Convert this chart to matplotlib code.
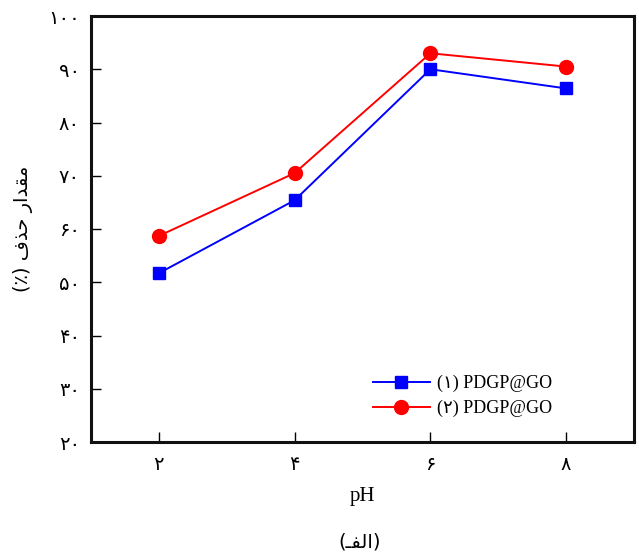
import matplotlib
matplotlib.use("Agg")
import matplotlib.pyplot as plt

# pH values and removal percentages for the two adsorbents
ph = [2, 4, 6, 8]
removal_1 = [51.7, 65.4, 90.0, 86.4]
removal_2 = [58.7, 70.5, 93.0, 90.5]
y_ticks = [20, 30, 40, 50, 60, 70, 80, 90, 100]

label_1 = "(۱) PDGP@GO"
label_2 = "(۲) PDGP@GO"
x_label = "pH"
# Arabic-script strings in shaped, visual (left-to-right) order
y_label = "(٪) ﻑﺬﺣ ﺭﺍﺪﻘﻣ"
caption = "(ـﻔﻟﺍ)"

FA_DIGITS = str.maketrans("0123456789", "۰۱۲۳۴۵۶۷۸۹")


def to_fa(n):
    return str(n).translate(FA_DIGITS)


serif = ["Liberation Serif", "DejaVu Sans"]
arabic = ["DejaVu Sans"]

W, H = 639, 556
fig = plt.figure(figsize=(W / 100, H / 100), dpi=100)
ax = fig.add_axes([91 / W, 1 - 442 / H, 543 / W, 426 / H])

ax.plot(ph, removal_1, color="#0000ff", lw=1.4, marker="s", ms=8.5,
        label=label_1)
ax.plot(ph, removal_2, color="#ff0000", lw=1.4, marker="o", ms=10,
        label=label_2)

ax.set_xlim(1, 9)
ax.set_ylim(20, 100)
ax.set_xticks(ph)
ax.set_xticklabels([to_fa(v) for v in ph], family=arabic, fontsize=14)
ax.set_yticks(y_ticks)
ax.set_yticklabels([to_fa(v) for v in y_ticks], family=arabic, fontsize=14)

ax.tick_params(direction="in", length=7, width=1, top=False, right=False)
ax.tick_params(axis="x", pad=9)
ax.tick_params(axis="y", pad=8)
for sp in ax.spines.values():
    sp.set_linewidth(2.2)
    sp.set_color("#111111")

fig.text(362 / W, 1 - 497 / H, x_label, family=serif, fontsize=15,
         ha="center", va="center")
fig.text(23 / W, 1 - 229 / H, y_label, family=arabic, fontsize=14,
         rotation=90, ha="center", va="center")
fig.text(360 / W, 1 - 542 / H, caption, family=arabic, fontsize=14,
         ha="center", va="center")

ax.legend(loc="center left", bbox_to_anchor=(0.519, 0.108), frameon=False,
          borderpad=0, borderaxespad=0, handlelength=3.15, handletextpad=0.39,
          labelspacing=0.45, prop={"family": serif, "size": 13})

fig.savefig("out.png", dpi=100)
